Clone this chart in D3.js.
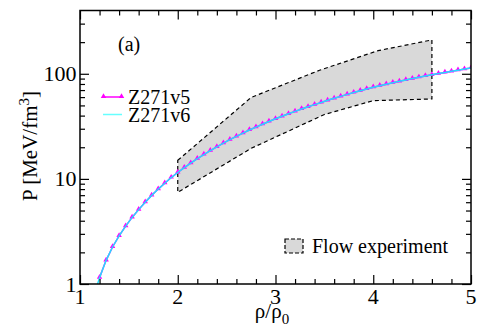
<!DOCTYPE html>
<html>
<head>
<meta charset="utf-8">
<script src="https://cdn.jsdelivr.net/npm/d3@7"></script>
<style>
  body { margin: 0; background: #fff; }
  svg text { font-family: "Liberation Serif", "DejaVu Serif", serif; fill: #000; }
</style>
</head>
<body>
<div id="plot"></div>
<script>
// density grid rho/rho0
var rho = [1.133, 1.200, 1.267, 1.333, 1.400, 1.467, 1.533, 1.600, 1.667, 1.733, 1.800,
    1.867, 1.933, 2.000, 2.067, 2.133, 2.200, 2.267, 2.333, 2.400, 2.467, 2.533,
    2.600, 2.667, 2.733, 2.800, 2.867, 2.933, 3.000, 3.067, 3.133, 3.200, 3.267,
    3.333, 3.400, 3.467, 3.533, 3.600, 3.667, 3.733, 3.800, 3.867, 3.933, 4.000,
    4.067, 4.133, 4.200, 4.267, 4.333, 4.400, 4.467, 4.533, 4.600, 4.667, 4.733,
    4.800, 4.867, 4.933, 5.000];

// pressure, MeV/fm^3
var z271v5 = [null, 1.15, 1.68, 2.25, 2.87, 3.55, 4.30, 5.10, 6.00, 6.97, 8.00,
    9.10, 10.3, 11.5, 12.8, 14.15, 15.6, 17.05, 18.6, 20.2, 21.9, 23.6,
    25.4, 27.3, 29.2, 31.1, 33.1, 35.2, 37.3, 39.4, 41.6, 43.9, 46.2,
    48.5, 50.9, 53.4, 55.9, 58.4, 61.0, 63.7, 66.3, 69.0, 71.7, 74.4,
    77.0, 79.6, 82.2, 84.8, 87.4, 90.0, 92.6, 95.2, 97.8, 100.4, 103.0,
    105.6, 108.2, 110.8, 113.4];

var z271v6 = [0.72, 1.15, 1.68, 2.25, 2.87, 3.55, 4.30, 5.10, 6.00, 6.97, 8.00,
    9.10, 10.3, 11.5, 12.8, 14.15, 15.6, 17.05, 18.6, 20.2, 21.9, 23.6,
    25.4, 27.3, 29.2, 31.1, 33.1, 35.2, 37.3, 39.4, 41.6, 43.9, 46.2,
    48.5, 50.9, 53.4, 55.9, 58.4, 61.0, 63.7, 66.3, 69.0, 71.7, 74.4,
    77.0, 79.6, 82.2, 84.8, 87.4, 90.0, 92.6, 95.2, 97.8, 100.4, 103.0,
    105.6, 108.2, 110.8, 113.4];

// flow experiment band
var flowRho = [2.0, 2.75, 3.45, 4.05, 4.6];
var flowUpper = [15, 59.5, 108, 166, 210];
var flowLowRho = [2.0, 2.75, 3.5, 4.0, 4.6];
var flowLower = [7.45, 19.5, 41, 55.5, 57.6];

var xTicks = [1, 2, 3, 4, 5];
var yTicks = [1, 10, 100];

var W = 480, H = 336;
var margin = {t: 10.5, r: 9, b: 52, l: 80};
var width = W - margin.l - margin.r,
    height = H - margin.t - margin.b;

var svg = d3.select('#plot')
    .append('svg')
    .attr('width', W)
    .attr('height', H)
    .attr('font-family', '"Liberation Serif", serif');

var plot = svg.append('g')
    .attr('transform', 'translate(' + margin.l + ',' + margin.t + ')');

var x = d3.scaleLinear().domain([1, 5]).range([0, width]);
var y = d3.scaleLog().domain([1, 400]).range([height, 0]);

svg.append('clipPath').attr('id', 'clip')
    .append('rect').attr('width', width).attr('height', height);

var body = plot.append('g').attr('clip-path', 'url(#clip)');

// band
var band = flowRho.map(function (r, i) { return [x(r), y(flowUpper[i])]; });
for (var i = flowLowRho.length - 1; i >= 0; i--) {
    band.push([x(flowLowRho[i]), y(flowLower[i])]);
}
body.append('path')
    .attr('d', 'M' + band.join('L') + 'Z')
    .attr('fill', '#d9d9d9')
    .attr('stroke', '#000')
    .attr('stroke-width', 1.2)
    .attr('stroke-dasharray', '4,3');

var pts5 = rho.map(function (r, i) { return {x: r, y: z271v5[i]}; });
var pts6 = rho.map(function (r, i) { return {x: r, y: z271v6[i]}; });

var line = d3.line()
    .defined(function (d) { return d.y != null; })
    .x(function (d) { return x(d.x); })
    .y(function (d) { return y(d.y); });

body.append('path').datum(pts5)
    .attr('d', line)
    .attr('fill', 'none')
    .attr('stroke', '#ff00ff')
    .attr('stroke-width', 1.5);

var tri = d3.symbol().type(d3.symbolTriangle).size(13);
body.selectAll('.m5')
    .data(pts5.filter(function (d) { return d.y != null; }))
    .enter().append('path')
    .attr('class', 'm5')
    .attr('d', tri)
    .attr('transform', function (d) { return 'translate(' + x(d.x) + ',' + (y(d.y) - 0.5) + ')'; })
    .attr('fill', '#ff00ff');

body.append('path').datum(pts6)
    .attr('d', line)
    .attr('fill', 'none')
    .attr('stroke', '#22ddff')
    .attr('stroke-width', 1.5);

// axes, ticks inward on all four sides
var xMinor = d3.range(1, 5.001, 0.2).filter(function (v) { return Math.abs(v - Math.round(v)) > 0.01; });
var yMinor = [];
[1, 10, 100].forEach(function (dec) {
    for (var k = 2; k <= 9; k++) if (dec * k < 400) yMinor.push(dec * k);
});

function axisSet(axisFn, scale, major, minor) {
    var g = plot.append('g');
    g.append('g').call(axisFn(scale).tickValues(minor).tickSize(5).tickFormat(''));
    g.append('g').call(axisFn(scale).tickValues(major).tickSize(9).tickFormat(''));
    return g;
}

var gb = axisSet(function (s) { return d3.axisTop(s); }, x, xTicks, xMinor);
gb.attr('transform', 'translate(0,' + height + ')');
var gt = axisSet(function (s) { return d3.axisBottom(s); }, x, xTicks, xMinor);
var gl = axisSet(function (s) { return d3.axisRight(s); }, y, yTicks, yMinor);
var gr = axisSet(function (s) { return d3.axisLeft(s); }, y, yTicks, yMinor);
gr.attr('transform', 'translate(' + width + ',0)');

plot.selectAll('.domain').remove();
plot.selectAll('.tick line').attr('stroke', '#000').attr('stroke-width', 1.2);

plot.append('rect')
    .attr('width', width).attr('height', height)
    .attr('fill', 'none').attr('stroke', '#000').attr('stroke-width', 1.5);

// tick labels
plot.selectAll('.xl').data(xTicks).enter().append('text')
    .attr('x', function (d) { return x(d); })
    .attr('y', height + 19.5)
    .attr('text-anchor', 'middle')
    .style('font-size', '22px')
    .text(function (d) { return d; });

plot.selectAll('.yl').data(yTicks).enter().append('text')
    .attr('x', -3.5)
    .attr('y', function (d) { return y(d) + 7.5; })
    .attr('text-anchor', 'end')
    .style('font-size', '22px')
    .text(function (d) { return d; });

// axis titles
var xt = svg.append('text')
    .attr('x', 272).attr('y', 318)
    .attr('text-anchor', 'middle')
    .style('font-size', '21px');
xt.append('tspan').text('ρ/ρ');
xt.append('tspan').attr('dy', 6).style('font-size', '15px').text('0');

var yt = svg.append('text')
    .attr('transform', 'translate(37,146) rotate(-90)')
    .attr('text-anchor', 'middle')
    .style('font-size', '21px');
yt.append('tspan').text('P [MeV/fm');
yt.append('tspan').attr('dy', -8).style('font-size', '15px').text('3');
yt.append('tspan').attr('dy', 8).text(']');

// panel label
svg.append('text').attr('x', 118).attr('y', 51)
    .style('font-size', '20px').text('(a)');

// legend
var lg = svg.append('g');
lg.append('line').attr('x1', 103).attr('x2', 122).attr('y1', 97).attr('y2', 97)
    .attr('stroke', '#ff00ff').attr('stroke-width', 1.5);
lg.selectAll('.lm').data([103.5, 121.5]).enter().append('path')
    .attr('d', tri)
    .attr('transform', function (d) { return 'translate(' + d + ',96.5)'; })
    .attr('fill', '#ff00ff');
lg.append('line').attr('x1', 103).attr('x2', 122).attr('y1', 114.5).attr('y2', 114.5)
    .attr('stroke', '#66ffff').attr('stroke-width', 1.5);
lg.append('text').attr('x', 128).attr('y', 104).style('font-size', '20px').text('Z271v5');
lg.append('text').attr('x', 128).attr('y', 121.5).style('font-size', '20px').text('Z271v6');

lg.append('rect').attr('x', 285).attr('y', 239).attr('width', 18).attr('height', 14)
    .attr('fill', '#d9d9d9').attr('stroke', '#000').attr('stroke-width', 1.2)
    .attr('stroke-dasharray', '4,2');
lg.append('text').attr('x', 312).attr('y', 252.5).style('font-size', '20px').text('Flow experiment');
</script>
</body>
</html>
